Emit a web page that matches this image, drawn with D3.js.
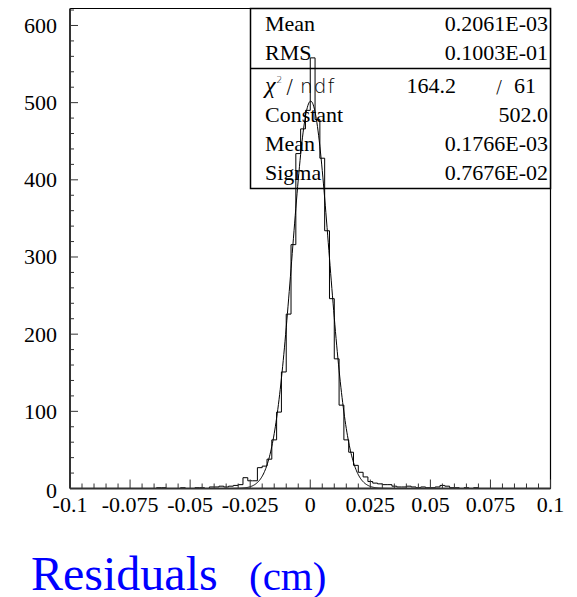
<!DOCTYPE html>
<html>
<head>
<meta charset="utf-8">
<script src="https://cdn.jsdelivr.net/npm/d3@7"></script>
<style>
  html, body { margin: 0; padding: 0; background: #fff; }
  svg { display: block; }
</style>
</head>
<body>
<svg id="chart" width="577" height="597"></svg>
<script>
// ---------------- DATA ----------------
// histogram: 100 bins from -0.1 to 0.1 (bin width 0.002)
const binLow = -0.1;
const binHigh = 0.1;
const binCounts = [
  0, 0, 0, 0, 0, 0, 0, 0, 0, 0,          // -0.100 .. -0.082
  0, 0, 0, 0, 0, 0, 0, 0, 1, 1,          // -0.080 .. -0.062
  0, 0, 0, 1, 0, 0, 1, 1, 0, 2,          // -0.060 .. -0.042
  2, 3, 2, 3, 4, 5, 14, 10, 10, 27,      // -0.040 .. -0.022
  29, 38, 63, 99, 151, 226, 316, 434, 466, 490, // -0.020 .. -0.002
  558, 478, 428, 334, 246, 168, 108, 63, 47, 30, // 0.000 .. 0.018
  21, 15, 9, 7, 6, 5, 5, 3, 2, 2,        // 0.020 .. 0.038
  3, 2, 1, 2, 1, 1, 2, 4, 3, 1,          // 0.040 .. 0.058
  1, 0, 1, 0, 1, 0, 0, 0, 0, 0,          // 0.060 .. 0.078
  0, 0, 0, 0, 0, 0, 0, 0, 0, 0           // 0.080 .. 0.098
];
// gaussian fit parameters (from stats box)
const fitConstant = 502.0;
const fitMean = 0.1766e-03;
const fitSigma = 0.7676e-02;

const xTickValues = [-0.1, -0.075, -0.05, -0.025, 0, 0.025, 0.05, 0.075, 0.1];
const xTickLabels = ["-0.1", "-0.075", "-0.05", "-0.025", "0", "0.025", "0.05", "0.075", "0.1"];
const yTickValues = [0, 100, 200, 300, 400, 500, 600];
const yTickLabels = ["0", "100", "200", "300", "400", "500", "600"];

const statsTopNames = ["Mean", "RMS"];
const statsTopValues = ["0.2061E-03", "0.1003E-01"];
const fitChi2 = "164.2";
const fitNdf = "61";
const statsFitNames = ["Constant", "Mean", "Sigma"];
const statsFitValues = ["502.0", "0.1766E-03", "0.7676E-02"];

const titleMain = "Residuals";
const titleUnit = "(cm)";

(function () {
// ---------------- LAYOUT ----------------
const svg = d3.select("#chart");
const serif = "'Liberation Serif', 'Times New Roman', serif";
const pL = 70, pR = 550.5, pT = 8.5, pB = 488.5;
const yMax = 622;

const x = d3.scaleLinear().domain([binLow, binHigh]).range([pL, pR]);
const y = d3.scaleLinear().domain([0, yMax]).range([pB, pT]);

// frame (top & right thin lines)
svg.append("path")
  .attr("d", `M${pL},${pT} H${pR} V${pB}`)
  .attr("fill", "none").attr("stroke", "#000").attr("stroke-width", 1.2);

// stats box
const boxL = 250.5, boxT = pT, boxR = pR, boxDiv = 68.5, boxB = 188.5;
svg.append("rect")
  .attr("x", boxL).attr("y", boxT).attr("width", boxR - boxL).attr("height", boxB - boxT)
  .attr("fill", "#fff").attr("stroke", "#000").attr("stroke-width", 1.5);
svg.append("line")
  .attr("x1", boxL).attr("x2", boxR).attr("y1", boxDiv).attr("y2", boxDiv)
  .attr("stroke", "#000").attr("stroke-width", 1.5);

const statFont = 22;
const nameX = 265, valX = 548;
const topBaselines = [31, 60];
statsTopNames.forEach((n, i) => {
  svg.append("text").attr("x", nameX).attr("y", topBaselines[i])
    .attr("font-family", serif).attr("font-size", statFont).text(n);
  svg.append("text").attr("x", valX).attr("y", topBaselines[i])
    .attr("text-anchor", "end")
    .attr("font-family", serif).attr("font-size", statFont).text(statsTopValues[i]);
});
// chi2 / ndf row
const chiRow = svg.append("text").attr("x", nameX).attr("y", 93)
  .attr("font-family", "'DejaVu Sans', sans-serif").attr("font-size", 20)
  .attr("font-weight", 200).attr("fill", "#000");
chiRow.append("tspan").attr("font-style", "italic").attr("font-family", serif).attr("font-size", 24).text("\u03C7");
chiRow.append("tspan").attr("dy", -10).attr("dx", 1).attr("font-size", 9).text("2");
chiRow.append("tspan").attr("dy", 10).attr("dx", 4).text("/");
chiRow.append("tspan").attr("dx", 7).attr("letter-spacing", 1).text("ndf");
svg.append("text").attr("x", 456).attr("y", 93).attr("text-anchor", "end")
  .attr("font-family", serif).attr("font-size", statFont).text(fitChi2);
svg.append("text").attr("x", 499).attr("y", 93).attr("text-anchor", "middle")
  .attr("font-family", "'DejaVu Sans', sans-serif").attr("font-size", 18).attr("font-weight", 200).text("/");
svg.append("text").attr("x", 536).attr("y", 93).attr("text-anchor", "end")
  .attr("font-family", serif).attr("font-size", statFont).text(fitNdf);

const fitBaselines = [122, 151, 180];
statsFitNames.forEach((n, i) => {
  svg.append("text").attr("x", nameX).attr("y", fitBaselines[i])
    .attr("font-family", serif).attr("font-size", statFont).text(n);
  svg.append("text").attr("x", valX).attr("y", fitBaselines[i])
    .attr("text-anchor", "end")
    .attr("font-family", serif).attr("font-size", statFont).text(statsFitValues[i]);
});

// histogram step outline
const bw = (binHigh - binLow) / binCounts.length;
let d = `M${x(binLow)},${y(0)}`;
binCounts.forEach((c, i) => {
  const x0 = x(binLow + i * bw), x1 = x(binLow + (i + 1) * bw);
  d += ` L${x0},${y(c)} L${x1},${y(c)}`;
});
d += ` L${x(binHigh)},${y(0)}`;
svg.append("path").attr("d", d).attr("fill", "none")
  .attr("stroke", "#000").attr("stroke-width", 1);

// gaussian fit curve
const curveX = d3.range(0, 801).map(k => binLow + k * (binHigh - binLow) / 800);
const gauss = v => fitConstant * Math.exp(-0.5 * Math.pow((v - fitMean) / fitSigma, 2));
svg.append("path")
  .attr("d", d3.line().x(v => x(v)).y(v => y(gauss(v)))(curveX))
  .attr("fill", "none").attr("stroke", "#000").attr("stroke-width", 1);

// axes lines
const axisColor = "#333";
svg.append("line").attr("x1", pL).attr("x2", pL).attr("y1", pT).attr("y2", pB)
  .attr("stroke", axisColor).attr("stroke-width", 2);
svg.append("line").attr("x1", pL).attr("x2", pR).attr("y1", pB).attr("y2", pB)
  .attr("stroke", axisColor).attr("stroke-width", 2);

// x ticks (inward)
const xMinor = d3.range(0, 41).map(k => binLow + k * 0.005);
xMinor.forEach(v => {
  const major = Math.abs(Math.round(v / 0.025) * 0.025 - v) < 1e-9;
  svg.append("line").attr("x1", x(v)).attr("x2", x(v))
    .attr("y1", pB).attr("y2", pB - (major ? 9 : 5))
    .attr("stroke", axisColor).attr("stroke-width", 1);
});
xTickValues.forEach((v, i) => {
  svg.append("text").attr("x", x(v)).attr("y", 512)
    .attr("text-anchor", "middle")
    .attr("font-family", serif).attr("font-size", 22).text(xTickLabels[i]);
});

// y ticks (inward)
const yMinor = d3.range(0, 32).map(k => k * 20);
yMinor.forEach(v => {
  const major = v % 100 === 0;
  svg.append("line").attr("x1", pL).attr("x2", pL + (major ? 8 : 4))
    .attr("y1", y(v)).attr("y2", y(v))
    .attr("stroke", axisColor).attr("stroke-width", 1);
});
yTickValues.forEach((v, i) => {
  svg.append("text").attr("x", 57).attr("y", y(v) + (v === 0 ? 9 : 7.5))
    .attr("text-anchor", "end")
    .attr("font-family", serif).attr("font-size", 22).text(yTickLabels[i]);
});

// title
svg.append("text").attr("x", 31).attr("y", 590)
  .attr("font-family", serif).attr("font-size", 48).attr("fill", "#0000ff").text(titleMain);
svg.append("text").attr("x", 249).attr("y", 590)
  .attr("font-family", serif).attr("font-size", 41).attr("fill", "#0000ff").text(titleUnit);
})();
</script>
</body>
</html>
